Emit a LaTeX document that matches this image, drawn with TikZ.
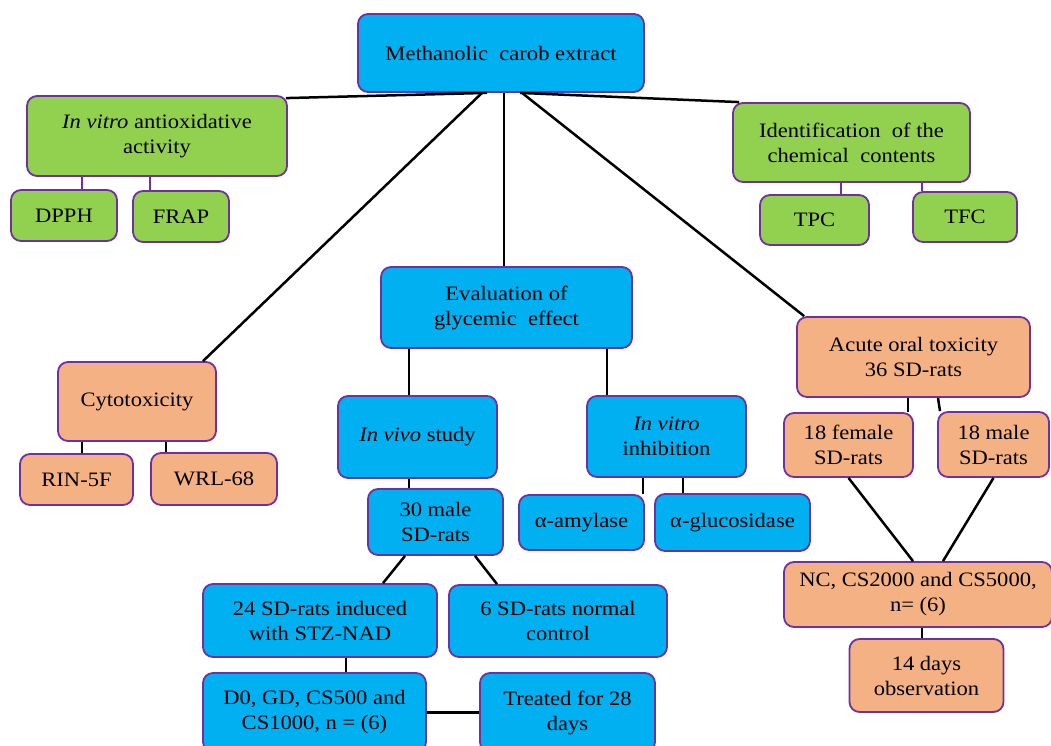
\documentclass[tikz,border=0pt]{standalone}
\usepackage{fontspec}
\setmainfont[FakeStretch=1.1]{Liberation Serif}
\usetikzlibrary{positioning}

\definecolor{carobblue}{HTML}{00B0F0}
\definecolor{carobgreen}{HTML}{92D050}
\definecolor{carobtan}{HTML}{F4B183}
\definecolor{boxline}{HTML}{7030A0}

\begin{document}
\begin{tikzpicture}[x=1pt, y=-1pt, node distance=80pt, box/.style={rectangle, rounded corners=10pt, draw=boxline, line width=1.8pt, align=center, inner sep=2pt, font=\fontsize{20.5}{25}\selectfont}, bluebox/.style={box, fill=carobblue}, greenbox/.style={box, fill=carobgreen}, tanbox/.style={box, fill=carobtan}, link/.style={line width=2.5pt}, glink/.style={line width=2.5pt, draw=boxline}]

  \useasboundingbox (0,0) rectangle (1051,746);

  \node[bluebox, minimum width=286pt, minimum height=78pt] (meth) at (501,53) {Methanolic\ \ carob extract};

  \node[greenbox, minimum width=260pt, minimum height=80pt] (antiox) at (157,136) {\textit{In vitro} antioxidative\\activity};
  \node[greenbox, node distance=79.5pt, below of=antiox, xshift=-93pt, minimum width=106pt, minimum height=51pt] (dpph) {DPPH};
  \node[greenbox, node distance=80.5pt, below of=antiox, xshift=24pt, minimum width=96pt, minimum height=51pt] (frap) {FRAP};

  \node[greenbox, minimum width=237pt, minimum height=79pt] (ident) at (851.5,142.5) {Identification\ \ of the\\chemical\ \ contents};
  \node[greenbox, node distance=77.5pt, below of=ident, xshift=-37pt, minimum width=109pt, minimum height=50pt] (tpc) {TPC};
  \node[greenbox, node distance=74.5pt, below of=ident, xshift=113.5pt, minimum width=104pt, minimum height=50pt] (tfc) {TFC};

  \node[tanbox, minimum width=158pt, minimum height=79pt] (cyto) at (137,401.5) {Cytotoxicity};
  \node[tanbox, node distance=78pt, below of=cyto, xshift=-60.5pt, minimum width=113pt, minimum height=51pt] (rin) {RIN-5F};
  \node[tanbox, node distance=77.5pt, below of=cyto, xshift=77pt, minimum width=126pt, minimum height=52pt] (wrl) {WRL-68};

  \node[bluebox, minimum width=251pt, minimum height=81pt] (eval) at (506.5,307.5) {Evaluation of\\glycemic\ \ effect};
  \node[bluebox, node distance=129.5pt, below of=eval, xshift=-89pt, minimum width=159pt, minimum height=82pt] (invivo) {\textit{In vivo} study};
  \node[bluebox, node distance=129pt, below of=eval, xshift=160pt, minimum width=159pt, minimum height=81pt] (invitro) {\textit{In vitro}\\inhibition};
  \node[bluebox, node distance=85pt, below of=invivo, xshift=18pt, minimum width=135pt, minimum height=66pt] (male30) {30 male\\SD-rats};
  \node[bluebox, node distance=86pt, below of=invitro, xshift=-85pt, minimum width=125pt, minimum height=55pt] (amylase) {α-amylase};
  \node[bluebox, node distance=86pt, below of=invitro, xshift=66pt, minimum width=155pt, minimum height=57pt] (glucosidase) {α-glucosidase};
  \node[bluebox, node distance=98.5pt, below of=male30, xshift=-115.5pt, minimum width=234pt, minimum height=73pt] (induced) {24 SD-rats induced\\with STZ-NAD};
  \node[bluebox, node distance=99pt, below of=male30, xshift=122.5pt, minimum width=218pt, minimum height=72pt] (normal) {6 SD-rats normal\\control};
  \node[bluebox, node distance=92pt, below of=induced, xshift=-5.5pt, minimum width=223pt, minimum height=79pt] (groups) {D0, GD, CS500 and\\CS1000, n = (6)};
  \node[bluebox, node distance=253pt, right of=groups, minimum width=175pt, minimum height=79pt] (treated) {Treated for 28\\days};

  \node[tanbox, minimum width=233pt, minimum height=80pt] (acute) at (913.5,357) {Acute oral toxicity\\36 SD-rats};
  \node[tanbox, node distance=88pt, below of=acute, xshift=-65pt, minimum width=129pt, minimum height=64pt] (female) {18 female\\SD-rats};
  \node[tanbox, node distance=87.5pt, below of=acute, xshift=80pt, minimum width=111pt, minimum height=65pt] (male18) {18 male\\SD-rats};
  \node[tanbox, node distance=237.5pt, below of=acute, xshift=4.5pt, minimum width=268pt, minimum height=65pt] (ncgroups) {NC, CS2000 and CS5000,\\n= (6)};
  \node[tanbox, node distance=81pt, below of=ncgroups, xshift=8.5pt, minimum width=154pt, minimum height=73pt] (observe) {14 days\\observation};

  % from the extract
  \draw[link] ([xshift=-14pt]meth.south) -- ([xshift=-2pt, yshift=-3pt]antiox.north east);
  \draw[link] ([xshift=-19pt]meth.south) -- ([xshift=66pt]cyto.north);
  \draw[link] ([xshift=3pt]meth.south) -- ([xshift=3pt]meth.south |- eval.north);
  \draw[link] ([xshift=19pt]meth.south) -- ([xshift=7pt]ident.north west);
  \draw[link] ([xshift=21pt]meth.south) -- ([xshift=8pt]acute.north west);

  \draw[glink] ([xshift=18pt]dpph.north) -- ([xshift=18pt]dpph.north |- antiox.south);
  \draw[glink] ([xshift=-31pt]frap.north) -- ([xshift=-31pt]frap.north |- antiox.south);
  \draw[glink] ([xshift=26.5pt]tpc.north) -- ([xshift=26.5pt]tpc.north |- ident.south);
  \draw[glink] ([xshift=-43pt]tfc.north) -- ([xshift=-43pt]tfc.north |- ident.south);

  \draw[link] ([xshift=5.5pt]rin.north) -- ([xshift=5.5pt]rin.north |- cyto.south);
  \draw[link] ([xshift=-48pt]wrl.north) -- ([xshift=-48pt]wrl.north |- cyto.south);

  % glycemic branch
  \draw[link] ([xshift=-8.5pt]invivo.north) -- ([xshift=-8.5pt]invivo.north |- eval.south);
  \draw[link] ([xshift=-59.5pt]invitro.north) -- ([xshift=-59.5pt]invitro.north |- eval.south);
  \draw[link] ([xshift=-26.5pt]male30.north) -- ([xshift=-26.5pt]male30.north |- invivo.south);
  \draw[link] ([xshift=61.5pt]amylase.north) -- ([xshift=61.5pt]amylase.north |- invitro.south);
  \draw[link] ([xshift=-49.5pt]glucosidase.north) -- ([xshift=-49.5pt]glucosidase.north |- invitro.south);
  \draw[link] ([xshift=-30.5pt]male30.south) -- ([xshift=63pt]induced.north);
  \draw[link] ([xshift=39.5pt]male30.south) -- ([xshift=-61pt]normal.north);
  \draw[link] ([xshift=26pt]induced.south) -- ([xshift=26pt]induced.south |- groups.north);
  \draw[link] (groups.east) -- (treated.west);

  % toxicity branch
  \draw[link] ([xshift=59.5pt]female.north) -- ([xshift=59.5pt]female.north |- acute.south);
  \draw[link] ([xshift=-53.5pt]male18.north) -- ([xshift=-55.5pt]male18.north |- acute.south);
  \draw[link] (female.south) -- ([xshift=-5pt]ncgroups.north);
  \draw[link] (male18.south) -- ([xshift=25pt]ncgroups.north);
  \draw[link] ([xshift=-4.5pt]observe.north) -- ([xshift=-4.5pt]observe.north |- ncgroups.south);

\end{tikzpicture}
\end{document}
